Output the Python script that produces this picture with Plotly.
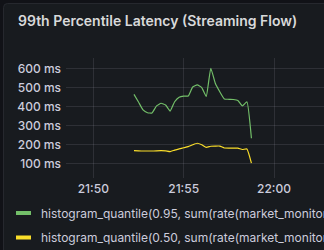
import plotly.graph_objects as go
import pandas as pd

# ---- data ----
start_time = "2024-01-01 21:52:15"
step_seconds = 15
p95_ms = [466, 426, 384, 369, 368, 405, 419, 410, 378, 427, 451, 457, 457, 505,
          516, 502, 455, 604, 525, 480, 442, 440, 439, 434, 405, 427, 234]
p50_ms = [169, 168, 167, 167, 167, 168, 169, 168, 164, 172, 178, 184, 190, 200,
          208, 200, 186, 192, 193, 193, 183, 182, 182, 182, 175, 178, 103]
series_names = [
    "histogram_quantile(0.95, sum(rate(market_monitor_streaming_flow_latency_seconds_bucket[5m])) by (le))",
    "histogram_quantile(0.50, sum(rate(market_monitor_streaming_flow_latency_seconds_bucket[5m])) by (le))",
]
series_colors = ["#73BF69", "#FADE2A"]
y_ticks = [100, 200, 300, 400, 500, 600]
y_tick_labels = [f"{v} ms" for v in y_ticks]
x_ticks = ["2024-01-01 21:50:00", "2024-01-01 21:55:00", "2024-01-01 22:00:00"]
x_tick_labels = ["21:50", "21:55", "22:00"]
title = "99th Percentile Latency (Streaming Flow)"

times = pd.date_range(start_time, periods=len(p95_ms), freq=f"{step_seconds}s")

W, H = 324, 250
L, R, T, B = 66, 0, 58, 72
pw, ph = W - L - R, H - T - B

def px_x(p):
    return (p - L) / pw

def px_y(p):
    return 1 - (p - T) / ph

fig = go.Figure()
for vals, name, col in zip([p95_ms, p50_ms], series_names, series_colors):
    fig.add_trace(go.Scatter(x=times, y=vals, name=name, mode="lines",
                             line=dict(color=col, width=1.2, shape="spline", smoothing=0.4),
                             showlegend=False))

grid = "rgba(204,204,220,0.12)"
font_col = "#ccccdc"

fig.update_layout(
    width=W, height=H,
    margin=dict(l=L, r=R, t=T, b=B),
    paper_bgcolor="#111217",
    plot_bgcolor="#181b1f",
    font=dict(family="Inter", size=12, color=font_col),
    xaxis=dict(range=["2024-01-01 21:48:29.3", "2024-01-01 22:02:46"],
               tickvals=x_ticks, ticktext=x_tick_labels, showgrid=True,
               gridcolor=grid, gridwidth=1, zeroline=False, showline=False,
               ticks="", ticklabelstandoff=2,
               tickfont=dict(family="Inter", size=12, color=font_col, weight=500)),
    yaxis=dict(range=[24.5, 658], tickvals=y_ticks, ticktext=y_tick_labels,
               showgrid=True, gridcolor=grid, gridwidth=1, zeroline=False,
               showline=False, ticks="", ticklabelstandoff=4,
               tickfont=dict(family="Inter", size=12, color=font_col, weight=500)),
    showlegend=False,
)

# panel background with rounded top-left corner
rad = 4
ax, ay = 3.5, 3.5
bx, by = 340, 270
def P(x, y):
    return f"{px_x(x)},{px_y(y)}"
path = (f"M {P(ax, by)} L {P(ax, ay + rad)} Q {P(ax, ay)} {P(ax + rad, ay)} "
        f"L {P(bx, ay)} L {P(bx, by)} Z")
fig.add_shape(type="path", xref="paper", yref="paper", path=path,
              fillcolor="#181b1f", line=dict(color="#26282e", width=1), layer="below")

fig.add_annotation(text=title, xref="paper", yref="paper", x=px_x(16), y=px_y(20),
                   xanchor="left", yanchor="middle", showarrow=False,
                   font=dict(family="Inter", size=14, color="#d8d9da", weight=600))

# legend
for i, (name, col) in enumerate(zip(series_names, series_colors)):
    cy = 213 + i * 24.5
    fig.add_shape(type="rect", xref="paper", yref="paper",
                  x0=px_x(16), x1=px_x(31), y0=px_y(cy + 2), y1=px_y(cy - 2),
                  fillcolor=col, line=dict(width=0))
    fig.add_annotation(text=name, xref="paper", yref="paper", x=px_x(39), y=px_y(cy),
                       xanchor="left", yanchor="middle", showarrow=False,
                       font=dict(family="Inter", size=12, color=font_col))

fig.write_html("out.html")
